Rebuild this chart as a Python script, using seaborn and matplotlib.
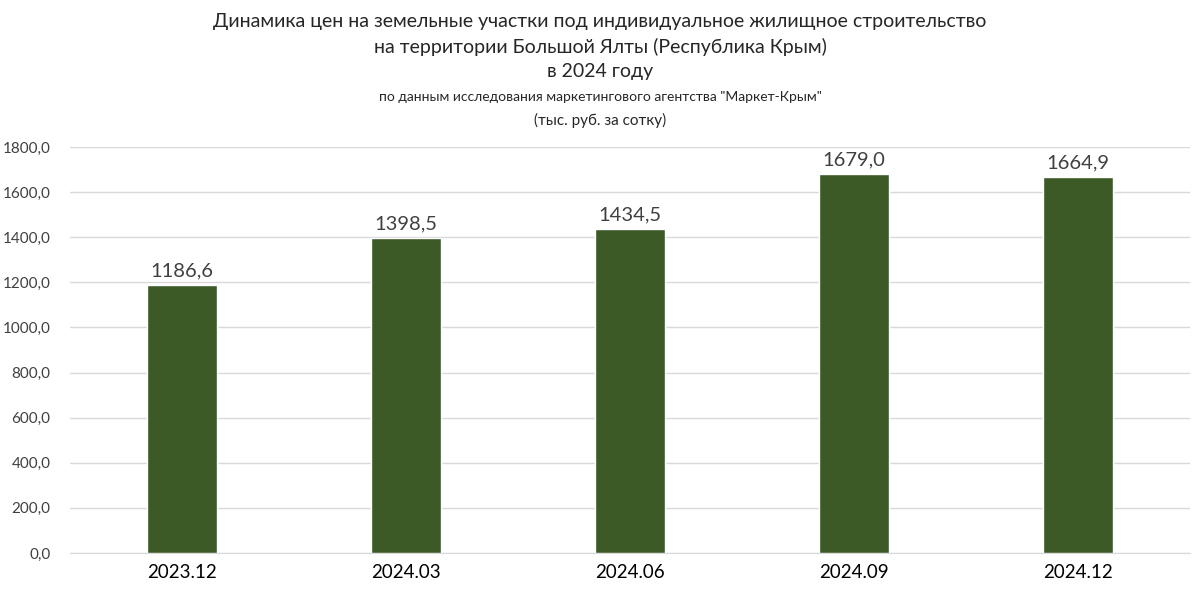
import matplotlib
matplotlib.use("Agg")
import matplotlib.pyplot as plt
import seaborn as sns
import pandas as pd

categories = ["2023.12", "2024.03", "2024.06", "2024.09", "2024.12"]
values = [1186.6, 1398.5, 1434.5, 1679.0, 1664.9]
yticks = [0, 200, 400, 600, 800, 1000, 1200, 1400, 1600, 1800]

sns.set_style("white")
plt.rcParams['font.family'] = ['Lato', 'DejaVu Sans']

df = pd.DataFrame({"cat": categories, "val": values})
fig = plt.figure(figsize=(12, 6.01), dpi=100)
ax = fig.add_axes([70/1200, 48/601, 1120/1200, 406/601])
sns.barplot(data=df, x="cat", y="val", color="#3c5a26", width=0.31, saturation=1, ax=ax, zorder=3)
ax.set_ylim(0, 1800)
ax.set_yticks(yticks)
ax.set_yticklabels([f"{v:.1f}".replace(".", ",") for v in yticks], fontsize=11, color="#404040")
ax.tick_params(axis='x', labelsize=13.5, colors="#000000", length=0, pad=8)
ax.tick_params(axis='y', length=0, pad=14)
ax.set_xlabel(""); ax.set_ylabel("")
ax.grid(axis='y', color="#d9d9d9", linewidth=1, zorder=0)
for s in ["top", "right", "left"]:
    ax.spines[s].set_visible(False)
ax.spines["bottom"].set_color("#d9d9d9")
for i, v in enumerate(values):
    ax.text(i, v + 25, f"{v:.1f}".replace(".", ","), ha="center", va="bottom", fontsize=14.5, color="#404040")

fig.text(0.5, 1-22/601, "Динамика цен на земельные участки под индивидуальное жилищное строительство", ha="center", va="center", fontsize=14)
fig.text(0.5, 1-47/601, "на территории Большой Ялты (Республика Крым)", ha="center", va="center", fontsize=14)
fig.text(0.5, 1-72/601, "в 2024 году", ha="center", va="center", fontsize=14)
fig.text(0.5, 1-97/601, "по данным исследования маркетингового агентства \"Маркет-Крым\"", ha="center", va="center", fontsize=10)
fig.text(0.5, 1-120/601, "(тыс. руб. за сотку)", ha="center", va="center", fontsize=11)
fig.savefig("out.png", dpi=100, facecolor="white")
